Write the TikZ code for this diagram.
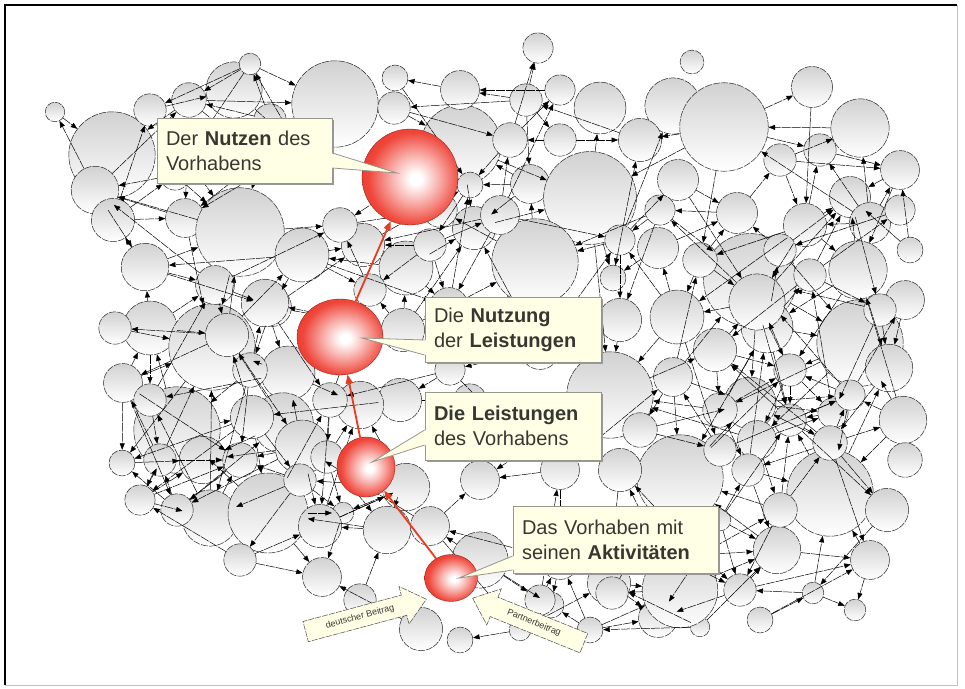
\documentclass[tikz,border=0pt]{standalone}
\usepackage{fontspec}
\newfontfamily\arialf{Liberation Sans}
\usetikzlibrary{arrows.meta,shapes.geometric,shapes.arrows,calc,shadows}
\definecolor{cream}{RGB}{255,255,230}
\definecolor{boxline}{RGB}{150,150,140}
\definecolor{txt}{RGB}{55,55,50}
\definecolor{redline}{RGB}{232,60,30}
\definecolor{sred}{RGB}{236,38,24}
\pgfdeclareradialshading{redsphere}{\pgfpoint{3bp}{-1bp}}{color(0bp)=(white); color(3bp)=(white); color(12bp)=(sred!35!white); color(24bp)=(sred!85!white); color(38bp)=(sred); color(46bp)=(sred!88!black); color(50bp)=(sred!65!black); color(100bp)=(sred!65!black)}
\begin{document}
\begin{tikzpicture}[x=1pt,y=-1pt,
  gc/.style={circle,inner sep=0pt,draw=black!85,line width=0.5pt,dash pattern=on 7pt off 1.2pt,top color=black!18,bottom color=white},
  link/.style={draw=black,line width=0.5pt,dash pattern=on 9pt off 1pt,-{Triangle[length=6.5pt,width=5pt]}},
  rs/.style={inner sep=0pt,shading=redsphere,draw=sred!55!black,line width=0.3pt},
  redarr/.style={draw=redline,line width=1.8pt,-{Triangle[length=9pt,width=7pt]}},
  cbox/.style={draw=boxline,line width=0.8pt,fill=cream,inner xsep=9pt,inner ysep=4pt,
    font=\arialf\fontsize{20}{25}\selectfont,text=txt,align=left,
    drop shadow={shadow xshift=1.5pt,shadow yshift=-1.5pt,fill=black!40,opacity=1}},
  ptr/.style={draw=boxline,line width=0.8pt},
  barr/.style={single arrow,draw=black!70,line width=0.5pt,dash pattern=on 6pt off 1.2pt,fill=cream,
    font=\arialf\fontsize{9}{10}\selectfont,text=txt,inner xsep=3pt,inner ysep=6pt,
    single arrow head extend=9pt,single arrow tip angle=80}]
\fill[white] (0,0) rectangle (965,688);
\useasboundingbox (0,0) rectangle (965,688);
% grey bubbles
\foreach \i/\x/\y/\r in {
1/55/112/9, 2/112/155/40, 3/95/190/22, 4/189/100/16, 5/234/90/26, 6/250/64/10,
7/335/104/40, 8/394/108/15, 9/461/145/37, 10/526/100/15, 11/538/48/14, 12/600/108/24,
13/673/106/26, 14/692/62/11, 15/724/127/41, 16/812/87/19, 17/860/128/27, 18/300/150/18,
19/510/140/16, 20/113/220/20, 21/185/218/18, 22/145/267/22, 23/240/232/41, 24/302/255/25,
25/530/184/18, 26/590/198/43, 27/678/180/19, 28/737/213/19, 29/805/225/20, 30/850/197/19,
31/870/223/19, 32/658/248/19, 33/750/280/43, 34/858/270/27, 35/613/278/12, 36/474/228/20,
37/535/262/40, 38/406/268/25, 39/363/245/20, 40/440/210/16, 41/175/175/14, 42/150/328/25,
43/115/328/15, 44/212/347/40, 45/227/335/20, 46/123/383/18, 47/272/307/18, 48/288/373/25,
49/283/423/28, 50/265/303/22, 51/215/285/18, 52/403/330/20, 53/449/307/18, 54/677/317/25,
55/767/327/24, 56/860/343/40, 57/673/377/18, 58/750/403/24, 59/610/395/40, 60/903/420/22,
61/833/413/14, 62/757/302/26, 63/889/368/22, 64/715/350/20, 65/620/320/20, 66/810/275/15,
67/370/290/15, 68/400/400/20, 69/360/405/22, 70/177/430/40, 71/122/463/12, 72/203/460/22,
73/252/417/20, 74/302/447/25, 75/327/457/15, 76/680/478/40, 77/830/493/40, 78/887/510/20,
79/757/440/18, 80/830/443/16, 81/748/470/15, 82/905/460/16, 83/400/490/7, 84/343/513/10,
85/406/487/22, 86/620/470/20, 87/560/470/18, 88/480/480/18, 89/720/520/10, 90/210/518/26,
91/177/510/15, 92/268/513/37, 93/322/577/18, 94/387/530/22, 95/320/526/20, 96/430/526/18,
97/421/629/20, 98/551/605/12, 99/609/583/20, 100/658/618/18, 101/700/627/9, 102/777/550/22,
103/813/593/10, 104/680/590/35, 105/612/593/15, 106/480/560/26, 107/540/600/14, 108/740/590/15,
109/870/560/18, 110/300/480/15, 111/150/400/15, 112/470/185/12, 113/560/140/15, 114/640/140/20,
115/780/160/15, 116/900/170/18, 117/905/300/18, 118/910/250/12, 119/260/160/15, 120/450/370/14,
121/500/420/20, 122/540/350/18, 123/620/240/14, 124/700/260/16, 125/790/370/15, 126/855/610/10,
127/460/640/12, 128/360/600/15, 129/240/560/15, 130/140/500/14, 131/500/215/18, 132/640/430/16,
133/470/400/15, 134/560/560/18, 135/720/410/16, 136/790/420/15, 137/900/210/14, 138/820/150/15,
139/660/210/14, 140/780/250/15, 141/850/395/14, 142/780/510/16, 143/720/450/15, 144/250/370/16,
145/330/400/16, 146/160/460/15, 147/240/460/16, 148/340/225/16, 149/430/245/15, 150/560/90/14,
151/460/90/18, 152/270/120/15, 153/150/110/15, 154/395/78/12, 155/880/310/15, 156/640/540/16,
157/520/630/10, 158/590/630/12, 159/760/620/12, 160/700/555/15}{
  \node[gc,minimum size=\r*2.16pt] (c\i) at (\x,\y) {};
  \expandafter\xdef\csname gx\i\endcsname{\x}
  \expandafter\xdef\csname gy\i\endcsname{\y}
  \expandafter\xdef\csname gr\i\endcsname{\r}
}
% links between bubbles
\foreach \i in {1,...,159}{
  \pgfmathtruncatemacro\ii{\i+1}
  \foreach \j in {\ii,...,160}{
    \pgfmathsetmacro\gap{veclen(\csname gx\i\endcsname-\csname gx\j\endcsname,\csname gy\i\endcsname-\csname gy\j\endcsname)-1.08*(\csname gr\i\endcsname+\csname gr\j\endcsname)}
    \pgfmathtruncatemacro\hh{mod(\i*37+\j*53,14)}
    \pgfmathtruncatemacro\ok{((\gap>10)&&(\gap<55)&&(\hh<7))||((\gap>=55)&&(\gap<110)&&(\hh<2))}
    \ifnum\ok=1
      \pgfmathtruncatemacro\dir{mod(\i*5+\j*3,2)}
      \ifnum\dir=1 \draw[link] (c\i) -- (c\j); \else \draw[link] (c\j) -- (c\i); \fi
    \fi
  }
}
% red spheres
\node[rs,circle,minimum size=96pt] (r1) at (410,177) {};
\node[rs,ellipse,minimum width=86pt,minimum height=76pt] (r2) at (340,337) {};
\node[rs,ellipse,minimum width=58pt,minimum height=60pt] (r3) at (366,467) {};
\node[rs,ellipse,minimum width=53pt,minimum height=47pt] (r4) at (451,578) {};
\draw[redarr] (r4) -- (r3);
\draw[redarr] (r3) -- (r2);
\draw[redarr] (r2) -- (r1);
% callouts
\node[cbox,text width=157pt,minimum height=65pt] (b1) at (244.5,150.5) {Der \textbf{Nutzen} des\\Vorhabens};
\node[cbox,text width=158pt,minimum height=65pt] (b2) at (513,329.5) {Die \textbf{Nutzung}\\der \textbf{Leistungen}};
\node[cbox,text width=158pt,minimum height=68pt] (b3) at (513,426) {\textbf{Die Leistungen}\\des Vorhabens};
\node[cbox,text width=187pt,minimum height=67pt] (b4) at (615.5,539.5) {Das Vorhaben mit\\seinen \textbf{Aktivitäten}};
\coordinate (t1) at (397,173);
\coordinate (t2) at (362,338);
\coordinate (t3) at (372,462);
\coordinate (t4) at (459,578);
\fill[cream] ($(b1.east)+(-1.5,2.5)$) -- (t1) -- ($(b1.east)+(-1.5,17.5)$) -- cycle;
\draw[ptr] ($(b1.east)+(0,2.5)$) -- (t1) -- ($(b1.east)+(0,17.5)$);
\fill[cream] ($(b2.west)+(1.5,10.5)$) -- (t2) -- ($(b2.west)+(1.5,25.5)$) -- cycle;
\draw[ptr] ($(b2.west)+(0,10.5)$) -- (t2) -- ($(b2.west)+(0,25.5)$);
\fill[cream] ($(b3.west)+(1.5,4)$) -- (t3) -- ($(b3.west)+(1.5,19)$) -- cycle;
\draw[ptr] ($(b3.west)+(0,4)$) -- (t3) -- ($(b3.west)+(0,19)$);
\fill[cream] ($(b4.west)+(1.5,16.5)$) -- (t4) -- ($(b4.west)+(1.5,30.5)$) -- cycle;
\draw[ptr] ($(b4.west)+(0,16.5)$) -- (t4) -- ($(b4.west)+(0,30.5)$);
% contribution arrows
\node[barr,rotate=15,minimum height=125pt] (ba1) at (360,617) {deutscher Beitrag};
\node[barr,rotate=-22,shape border rotate=180,minimum height=120pt] (ba2) at (534,623) {Partnerbeitrag};
% frame
\draw[black,line width=2.2pt] (5,685) -- (5,5) -- (957,5);
\draw[black!25,line width=0.8pt] (957,5) -- (957,685) -- (5,685);
\end{tikzpicture}
\end{document}
